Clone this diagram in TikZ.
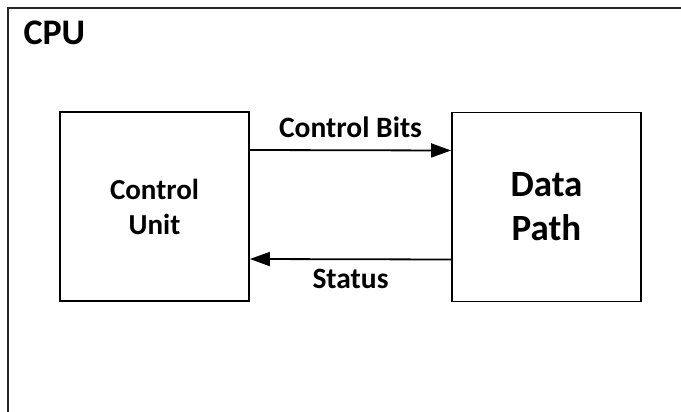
\documentclass[tikz,border=0pt]{standalone}
\usepackage{fontspec}
\setmainfont{Carlito}
\usetikzlibrary{arrows.meta}
\begin{document}
\begin{tikzpicture}[x=1pt,y=-1pt,>={Triangle[length=20pt,width=14pt]},
    unit/.style={draw,line width=1.8pt,minimum width=189pt,minimum height=189pt,
        align=center,font=\bfseries\fontsize{29}{35}\selectfont},
    flow/.style={->,line width=1.8pt},
    lbl/.style={font=\bfseries\fontsize{29.5}{32}\selectfont,anchor=base}]
    \useasboundingbox (0,0) rectangle (681,412);
    % outer CPU frame, cut off at right and bottom
    \draw[line width=2pt,black!85] (681,8) -- (8,8) -- (8,412);
    \node[anchor=base west,font=\bfseries\fontsize{36}{40}\selectfont] (cpu) at (20,45) {CPU};
    \node[unit] (cu) at (154.5,206.5) {Control\\Unit};
    \node[unit,font=\bfseries\fontsize{37}{44}\selectfont] (dp) at (546.5,207) {Data\\Path};
    \draw[flow] ([yshift=56.5pt]cu.east) -- node[lbl,yshift=13pt]{Control Bits} ([yshift=56.5pt]dp.west);
    \draw[flow] ([yshift=-52.5pt]dp.west) -- node[lbl,yshift=-29pt]{Status} ([yshift=-52.5pt]cu.east);
\end{tikzpicture}
\end{document}
